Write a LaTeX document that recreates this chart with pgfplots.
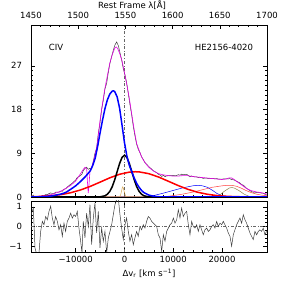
\documentclass[border=0pt]{standalone}
\usepackage{fontspec}
\setmainfont{DejaVu Sans}
\usepackage{pgfplots}
\pgfplotsset{compat=1.18}
\definecolor{tanc}{RGB}{215,165,80}
\definecolor{olivec}{RGB}{140,130,70}
\definecolor{datac}{RGB}{60,60,60}
\definecolor{magc}{RGB}{230,0,230}
\begin{document}
\fontsize{8.5}{10}\selectfont
\begin{tikzpicture}[x=1pt,y=1pt]
\useasboundingbox (0,0) rectangle (283,283);
\pgfplotsset{every axis/.append style={scale only axis, width=236pt, tick align=inside,
  major tick length=4pt, minor tick length=2pt, tick style={black, line width=0.4pt},
  axis line style={line width=0.5pt}, /pgf/number format/assume math mode=true,
  scaled ticks=false,
  ticklabel style={font=\fontsize{8.5}{10}\selectfont},
  yticklabel style={xshift=-6pt}}}
% ---------- top panel ----------
\begin{axis}[at={(31pt,86pt)}, anchor=south west, height=172pt,
  xmin=-19160, xmax=29220, ymin=0, ymax=35.4,
  xtick={-10000,0,10000,20000}, xticklabels={}, minor x tick num=4, xtick pos=left,
  ytick={0,9,18,27}, minor y tick num=8, ytick pos=both, yticklabel pos=left]
\addplot[gray!80!black, dash dot, line width=0.5pt] coordinates {(0,0) (0,35.4)};
\addplot[datac, line width=0.5pt] coordinates {
(-19160,0.26) (-18680,0.41) (-18340,-0.28) (-18000,-0.38) (-17520,-0.31) (-17180,0.10)
(-16840,0.31) (-16500,0.30) (-16150,0.51) (-15810,0.50) (-15470,0.70) (-15130,0.84)
(-14790,0.72) (-14450,0.72) (-14110,0.99) (-13760,1.02) (-13420,0.99) (-13080,1.20)
(-12740,1.18) (-12400,1.62) (-12060,1.67) (-11720,2.06) (-11370,2.33) (-11030,2.62)
(-10690,2.83) (-10350,3.20) (-10010,3.47) (-9670,4.03) (-9330,4.21) (-8980,4.46)
(-8710,4.70) (-8440,5.42) (-8100,5.9) (-7760,6.14) (-7410,5.7) (-7070,5.9)
(-6730,5.83) (-6390,7.35) (-6050,9.0) (-5710,10.0) (-5360,13.1) (-5020,15.2)
(-4680,18.0) (-4340,19.9) (-4000,22.25) (-3650,23.4) (-3310,25.65) (-2970,27.55)
(-2630,28.9) (-2290,30.2) (-1950,31.3) (-1610,31.9) (-1270,31.2) (-920,29.7)
(-580,28.25) (-240,26.4) (100,25.15) (440,23.55) (780,21.35) (1120,19.05)
(1470,16.95) (1810,14.5) (2150,12.6) (2490,10.9) (2830,9.8) (3170,9.15)
(3510,8.25) (3860,7.7) (4200,7.07) (4540,6.75) (4880,6.4) (5220,6.05)
(5580,5.74) (5920,5.41) (6260,5.2) (6600,5.0) (6940,4.68) (7280,4.54)
(7630,4.23) (7970,4.45) (8310,4.2) (8650,4.34) (8990,4.37) (9330,4.4)
(9670,4.39) (10020,4.45) (10360,4.36) (10700,4.42) (11040,4.6) (11380,4.49)
(11720,4.7) (12060,4.58) (12410,4.64) (12750,4.67) (13090,4.41) (13430,4.16)
(13770,4.34) (14110,4.19) (14460,4.12) (14800,4.15) (15140,4.0) (15480,4.08)
(15820,3.96) (16160,3.83) (16500,3.89) (16850,3.89) (17190,3.79) (17530,3.79)
(17870,3.81) (18210,3.81) (18550,3.72) (18900,3.8) (19240,3.68) (19580,3.7)
(19920,3.64) (20260,3.72) (20600,3.71) (20940,3.72) (21290,3.75) (21630,3.77)
(21970,3.55) (22310,3.56) (22650,3.42) (22990,3.23) (23330,3.06) (23670,2.88)
(24020,2.55) (24360,2.44) (24700,2.1) (25040,1.79) (25380,1.55) (25720,1.3)
(26060,1.11) (26400,0.97) (26750,1.02) (27090,0.89) (27430,0.9) (27770,0.87)
(28110,0.79) (28450,0.79) (28790,0.56) (29130,0.53)};
\addplot[magc, line width=0.6pt] coordinates {
(-19160,0.05) (-17000,0.2) (-15000,0.5) (-13000,1.2) (-11000,2.4) (-10000,3.3)
(-9000,4.8) (-8500,5.6) (-8100,6.1) (-7750,5.8) (-7550,2.5) (-7420,0.8) (-7280,2.5)
(-7050,5.5) (-6700,6.2) (-6300,7.5) (-6000,8.8) (-5700,10.2) (-5500,11.6) (-5000,15.8)
(-4500,19.3) (-4000,22.4) (-3500,25.0) (-3000,27.6) (-2500,29.3) (-2000,30.6)
(-1700,30.9) (-1400,30.6) (-1000,29.6) (-500,28.0) (0,25.6) (500,23.0) (1000,20.3)
(1500,17.0) (2000,13.8) (2500,11.0) (3000,9.6) (3500,8.3) (4000,7.4) (4500,6.7)
(5000,6.1) (6000,5.3) (7000,4.8) (8000,4.55) (9000,4.4) (10000,4.3) (11000,4.3)
(12000,4.4) (13000,4.4) (14000,4.2) (15000,4.1) (16000,4.0) (17000,3.9) (18000,3.8)
(19000,3.7) (20000,3.6) (20800,3.7) (21500,3.95) (22000,3.9) (22500,3.6) (23000,3.2)
(24000,2.5) (25000,1.75) (26000,1.3) (27000,1.05) (28000,0.9) (29220,0.6)};
% thin components
\addplot[blue, line width=0.5pt] coordinates {
(-19160,0) (4000,0) (6000,0.3) (8000,0.8) (10000,1.35) (12000,1.9) (14000,2.3)
(15000,2.4) (16000,2.3) (17000,2.0) (18000,1.4) (19000,0.7) (20000,0.3) (21000,0.1)
(22000,0) (29220,0)};
\addplot[red!75, line width=0.5pt] coordinates {
(-19160,0) (8000,0) (10000,0.3) (12000,0.6) (14000,1.0) (16000,1.5) (18000,2.0)
(20000,2.3) (21000,2.4) (22000,2.4) (23000,2.2) (24000,1.8) (25000,1.3) (26000,0.9)
(27000,0.6) (28000,0.4) (29220,0.25)};
\addplot[olivec, line width=0.5pt] coordinates {
(-19160,0) (18500,0) (19500,0.4) (20500,1.2) (21500,1.85) (22000,1.95) (22500,1.85)
(23500,1.3) (24500,0.6) (25500,0.15) (26100,0) (29220,0)};
\addplot[tanc, line width=0.5pt] coordinates {
(-19160,0) (-1200,0) (-1000,0.05) (-800,0.4) (-600,1.2) (-450,1.9) (-350,2.1)
(-200,1.7) (0,0.9) (200,0.3) (400,0.05) (600,0) (29220,0)};
% thick components
\addplot[red, line width=1.5pt] coordinates {
(-19160,0.05) (-17000,0.12) (-15000,0.25) (-13000,0.49) (-11000,0.88) (-9000,1.45)
(-7000,2.19) (-5000,3.06) (-3000,3.95) (-1000,4.68) (1000,5.12) (2200,5.2) (3000,5.17)
(5000,4.80) (7000,4.11) (9000,3.24) (11000,2.36) (13000,1.58) (15000,0.98) (17000,0.56)
(19000,0.29) (21000,0.14) (23000,0.06) (25000,0.03) (29220,0.01)};
\addplot[black, line width=1.5pt] coordinates {
(-19160,0) (-6000,0) (-5000,0.03) (-4000,0.25) (-3500,0.57) (-3000,1.16) (-2500,2.14)
(-2000,3.54) (-1500,5.22) (-1000,6.89) (-500,8.14) (0,8.6) (500,8.14) (1000,6.89)
(1500,5.22) (2000,3.54) (2500,2.14) (3000,1.16) (3500,0.57) (4000,0.25) (5000,0.03)
(6000,0) (29220,0)};
\addplot[blue, line width=1.5pt] coordinates {
(-19160,0.02) (-17000,0.05) (-15000,0.2) (-13000,0.6) (-12000,0.95) (-11000,1.6)
(-10000,2.3) (-9000,3.2) (-8000,4.2) (-7000,5.4) (-6500,6.5) (-6000,8.0) (-5500,10.4)
(-5000,13.2) (-4500,15.8) (-4000,18.2) (-3500,20.0) (-3000,21.2) (-2500,21.8)
(-2250,21.85) (-2000,21.7) (-1500,20.6) (-1000,18.3) (-500,14.8) (0,11.2) (500,8.4)
(1000,6.5) (1500,5.2) (2000,3.9) (2500,2.8) (3000,2.0) (3500,1.35) (4000,0.9)
(5000,0.4) (6000,0.15) (7000,0.05) (8000,0.02) (29220,0)};
\end{axis}
% ---------- top wavelength axis ----------
\begin{axis}[at={(31pt,86pt)}, anchor=south west, height=172pt,
  xmin=1450, xmax=1700, ymin=0, ymax=1, axis x line*=top, axis y line=none,
  xtick={1450,1500,1550,1600,1650,1700}, minor x tick num=4,
  xticklabel style={/pgf/number format/1000 sep={}, yshift=3pt}]
\addplot[draw=none] coordinates {(1500,0.5)};
\end{axis}
% ---------- residual panel ----------
\begin{axis}[at={(31pt,31pt)}, anchor=south west, height=51pt,
  xmin=-19160, xmax=29220, ymin=-1.3, ymax=1.3,
  xtick={-10000,0,10000,20000}, xticklabels={−10000,0,10000,20000}, minor x tick num=4,
  xtick pos=both, xticklabel pos=left, xticklabel style={yshift=-1pt},
  ytick={-1,0,1}, yticklabels={−1,0,1}, minor y tick num=4, ytick pos=both, yticklabel pos=left]
\addplot[gray!80!black, dash dot, line width=0.5pt] coordinates {(0,-1.3) (0,1.3)};
\addplot[gray!80!black, dash dot, line width=0.5pt] coordinates {(-19160,0) (29220,0)};
\addplot[datac, line width=0.5pt] coordinates {
(-19160,0.6) (-18680,0.94) (-18340,-1.09) (-18000,-1.42) (-17520,-1.35) (-17180,-0.25)
(-16840,0.26) (-16500,0.09) (-16150,0.51) (-15810,0.34) (-15470,0.77) (-15130,1.03)
(-14790,0.43) (-14450,0.09) (-14110,0.51) (-13760,0.26) (-13420,-0.17) (-13080,0.09)
(-12740,-0.5) (-12400,0.17) (-12060,-0.25) (-11720,0.26) (-11370,0.43) (-11030,0.68)
(-10690,0.43) (-10350,0.6) (-10010,0.51) (-9670,0.77) (-9330,-0.08) (-8980,-0.75)
(-8710,-1.35) (-8440,0.26) (-8100,-0.58) (-7760,0.68) (-7410,0.0) (-7070,1.11)
(-6730,-0.92) (-6390,0.43) (-6050,1.2) (-5710,-0.33) (-5360,0.77) (-5020,-1.09)
(-4680,-0.08) (-4340,-0.75) (-4000,-0.25) (-3650,-1.35) (-3310,-0.58) (-2970,-0.25)
(-2630,0.09) (-2290,0.6) (-1950,1.11) (-1610,1.37) (-1270,1.45) (-920,0.6)
(-580,-0.08) (-240,-0.67) (100,0.09) (440,0.43) (780,-0.25) (1120,-0.75)
(1470,-0.42) (1810,-0.92) (2150,-0.58) (2490,-0.25) (2830,-0.5) (3170,0.0)
(3510,-0.17) (3860,0.09) (4200,-0.08) (4540,0.26) (4880,0.51) (5220,0.43)
(5580,0.26) (5920,0.17) (6260,0.09) (6600,0.0) (6940,-0.42) (7280,-0.58)
(7630,-1.26) (7970,-0.42) (8310,-0.75) (8650,-0.25) (8990,-0.08) (9330,0.09)
(9670,0.17) (10020,0.43) (10360,0.17) (10700,0.34) (11040,0.85) (11380,0.43)
(11720,0.94) (12060,0.51) (12410,0.68) (12750,0.77) (13090,0.09) (13430,-0.42)
(13770,0.26) (14110,0.0) (14460,-0.08) (14800,0.09) (15140,-0.25) (15480,0.09)
(15820,-0.17) (16160,-0.42) (16500,-0.17) (16850,-0.08) (17190,-0.25) (17530,-0.17)
(17870,0.0) (18210,0.09) (18550,-0.08) (18900,0.26) (19240,0.0) (19580,0.17)
(19920,0.09) (20260,0.26) (20600,0.09) (20940,-0.08) (21290,-0.33) (21630,-0.5)
(21970,-1.0) (22310,-0.42) (22650,-0.17) (22990,0.09) (23330,0.26) (23670,0.43)
(24020,0.17) (24360,0.6) (24700,0.34) (25040,0.17) (25380,-0.08) (25720,-0.33)
(26060,-0.5) (26400,-0.67) (26750,-0.25) (27090,-0.42) (27430,-0.25) (27770,-0.17)
(28110,-0.25) (28450,-0.08) (28790,-0.42) (29130,-0.25)};
\end{axis}
% ---------- labels ----------
\node at (132,278) {Rest Frame λ[Å]};
\node at (149,10) {Δv\textsubscript{r} [km s\textsuperscript{−1}]};
\node at (56,236) {CIV};
\node at (224,236) {HE2156-4020};
\end{tikzpicture}
\end{document}
